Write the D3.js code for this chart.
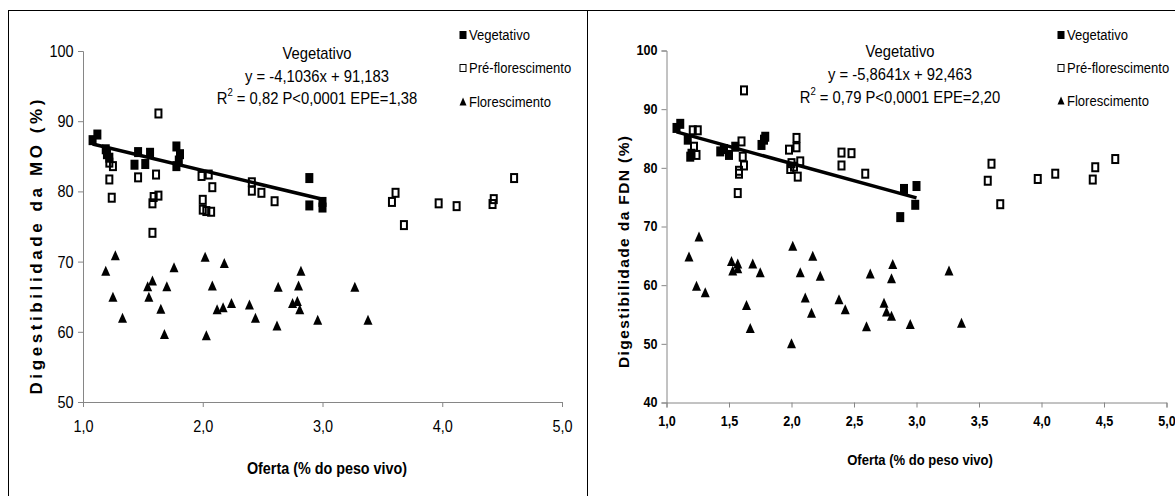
<!DOCTYPE html>
<html>
<head>
<meta charset="utf-8">
<script src="https://cdn.jsdelivr.net/npm/d3@7/dist/d3.min.js"></script>
<style>
  body { margin: 0; background: #fff; }
  text { font-family: "Liberation Sans", Arial, sans-serif; fill: #000; }
</style>
</head>
<body>
<svg id="chart" width="1175" height="496"></svg>
<script>
// estádios fenológicos
var seriesNames = ["Vegetativo", "Pré-florescimento", "Florescimento"];

// digestibilidade da MO (%) x oferta (% PV)
var moVeg = [[1.08,87.3],[1.12,88.1],[1.19,86.0],[1.20,85.3],[1.22,84.8],[1.43,83.8],[1.46,85.6],
  [1.52,83.9],[1.56,85.5],[1.78,86.4],[1.81,85.3],[1.78,83.6],[1.80,84.4],[2.89,81.9],[2.89,78.0],
  [3.00,78.5],[3.00,77.7]];
var moPre = [[1.22,84.1],[1.25,83.6],[1.22,81.7],[1.24,79.1],[1.63,91.1],[1.46,82.0],[1.61,82.4],
  [1.58,78.3],[1.59,79.2],[1.63,79.4],[1.58,74.1],[1.99,82.2],[2.05,82.4],[2.08,80.6],[2.00,78.8],
  [2.00,77.4],[2.03,77.2],[2.07,77.1],[2.41,81.3],[2.41,80.1],[2.49,79.8],[2.60,78.6],[3.58,78.5],
  [3.61,79.8],[3.68,75.2],[3.97,78.3],[4.12,77.9],[4.42,78.2],[4.43,78.9],[4.60,81.9]];
var moFlor = [[1.19,68.7],[1.27,70.9],[1.25,65.0],[1.33,62.0],[1.54,66.5],[1.58,67.3],[1.55,65.0],
  [1.65,63.3],[1.70,66.5],[1.76,69.2],[1.68,59.7],[2.02,70.7],[2.08,66.6],[2.18,69.8],[2.03,59.5],
  [2.12,63.2],[2.17,63.5],[2.24,64.1],[2.39,63.9],[2.44,62.0],[2.63,66.4],[2.62,60.9],[2.75,64.1],
  [2.79,64.4],[2.80,66.6],[2.82,68.7],[2.81,63.2],[2.96,61.7],[3.27,66.4],[3.38,61.7]];

// digestibilidade da FDN (%) x oferta (% PV)
var fdnVeg = [[1.08,86.8],[1.11,87.5],[1.17,84.8],[1.19,81.9],[1.20,82.4],[1.43,82.8],[1.46,83.2],
  [1.50,82.2],[1.55,83.6],[1.76,83.9],[1.78,84.8],[1.79,85.3],[2.90,76.4],[2.87,71.6],[3.00,76.9],
  [2.99,73.7]];
var fdnPre = [[1.21,86.4],[1.25,86.4],[1.22,83.6],[1.24,82.2],[1.62,93.2],[1.60,84.5],[1.61,81.9],
  [1.62,80.4],[1.58,79.5],[1.58,79.0],[1.57,75.7],[1.98,83.1],[2.04,85.1],[2.04,83.5],[2.00,80.8],
  [1.99,79.8],[2.07,81.1],[2.05,78.5],[2.02,80.2],[2.40,82.6],[2.48,82.5],[2.40,80.4],[2.59,79.0],
  [3.57,77.8],[3.60,80.7],[3.67,73.8],[3.97,78.1],[4.11,79.0],[4.41,78.0],[4.43,80.1],[4.59,81.5]];
var fdnFlor = [[1.18,64.9],[1.26,68.3],[1.24,59.9],[1.31,58.8],[1.52,64.1],[1.53,62.5],[1.57,63.7],
  [1.57,62.9],[1.69,63.7],[1.75,62.2],[1.64,56.6],[1.67,52.7],[2.01,66.7],[2.00,50.1],[2.07,62.2],
  [2.17,65.0],[2.23,61.6],[2.11,57.9],[2.16,55.3],[2.38,57.6],[2.43,55.9],[2.63,62.0],[2.60,53.0],
  [2.74,57.0],[2.76,55.5],[2.80,54.8],[2.80,61.2],[2.81,63.6],[2.95,53.4],[3.26,62.5],[3.36,53.6]];

// regressões do estádio vegetativo: [inclinação, intercepto], faixa de x
var moFit = [-4.1036, 91.183];
var fdnFit = [-5.8641, 92.463];
var fitRange = [1.08, 3.0];

var moEquation = ["Vegetativo", "y = -4,1036x + 91,183", ["R", "2", " = 0,82 P<0,0001 EPE=1,38"]];
var fdnEquation = ["Vegetativo", "y = -5,8641x + 92,463", ["R", "2", " = 0,79 P<0,0001 EPE=2,20"]];

var moXTicks = [1, 2, 3, 4, 5];
var fdnXTicks = [1, 1.5, 2, 2.5, 3, 3.5, 4, 4.5, 5];
var moYTicks = [50, 60, 70, 80, 90, 100];
var fdnYTicks = [40, 50, 60, 70, 80, 90, 100];

var svg = d3.select("#chart");
var fmt = function (d) { return d3.format(".1f")(d).replace(".", ","); };
var sq = 0.87; // letras estreitas e altas

// moldura da tabela
svg.append("line").attr("x1", 8).attr("x2", 1175).attr("y1", 10.5).attr("y2", 10.5).attr("stroke", "#000");
svg.append("line").attr("x1", 8.5).attr("x2", 8.5).attr("y1", 10).attr("y2", 496).attr("stroke", "#000");
svg.append("line").attr("x1", 587.5).attr("x2", 587.5).attr("y1", 10).attr("y2", 496).attr("stroke", "#000");

function label(g, x, y, size, anchor) {
  return g.append("text").attr("transform", "translate(" + x + "," + y + ") scale(" + sq + ",1)")
    .attr("text-anchor", anchor).attr("dominant-baseline", "central").attr("font-size", size + "px");
}

function marker(g, type, cx, cy) {
  if (type == 0) {
    g.append("rect").attr("x", cx - 4).attr("y", cy - 5).attr("width", 8).attr("height", 10).attr("fill", "#000");
  } else if (type == 1) {
    g.append("rect").attr("x", cx - 3).attr("y", cy - 4).attr("width", 6).attr("height", 8)
      .attr("fill", "none").attr("stroke", "#000").attr("stroke-width", 2);
  } else {
    g.append("path").attr("d", "M" + cx + "," + (cy - 5) + "L" + (cx + 4.5) + "," + (cy + 5) + "L" + (cx - 4.5) + "," + (cy + 5) + "Z")
      .attr("fill", "#000");
  }
}

function drawPanel(p) {
  var x = d3.scaleLinear().domain([1, 5]).range(p.xr);
  var y = d3.scaleLinear().domain(p.yd).range(p.yr);
  var g = svg.append("g");

  // eixos
  var ya = g.append("g").attr("transform", "translate(" + p.xr[0] + ",0)")
    .call(d3.axisLeft(y).tickValues(p.yTicks).tickSize(5).tickPadding(p.yPad).tickFormat(d3.format("d")));
  var xa = g.append("g").attr("transform", "translate(0," + p.yr[0] + ")")
    .call(d3.axisBottom(x).tickValues(p.xTicks).tickSize(5).tickPadding(p.xPad).tickFormat(fmt));
  [ya, xa].forEach(function (a) {
    a.select(".domain").attr("stroke", "#868686");
    a.selectAll(".tick line").attr("stroke", "#868686");
    a.selectAll(".tick text").style("font-family", '"Liberation Sans", Arial, sans-serif')
      .style("font-size", p.tickSize + "px").style("font-weight", p.tickWeight).attr("fill", "#000")
      .attr("transform", "scale(" + p.tickSq + ",1)");
  });

  // pontos
  [p.veg, p.pre, p.flor].forEach(function (s, k) {
    s.forEach(function (d) { marker(g, k, x(d[0]), y(d[1])); });
  });

  // linha de tendência
  var line = d3.line().x(function (d) { return x(d); }).y(function (d) { return y(p.fit[0] * d + p.fit[1]); });
  g.append("path").attr("d", line(fitRange)).attr("stroke", "#000").attr("stroke-width", 3.5).attr("fill", "none");

  // equação
  label(g, p.eqX, p.eqY[0], 17, "middle").text(p.eq[0]);
  label(g, p.eqX, p.eqY[1], 17, "middle").text(p.eq[1]);
  var r2 = label(g, p.eqX, p.eqY[2], 17, "middle");
  r2.append("tspan").text(p.eq[2][0]);
  r2.append("tspan").attr("font-size", "11px").attr("dy", -6).text(p.eq[2][1]);
  r2.append("tspan").attr("dy", 6).text(p.eq[2][2]);

  // legenda
  seriesNames.forEach(function (n, k) {
    var ly = p.legY[k];
    if (k == 0) g.append("rect").attr("x", p.legX - 3.5).attr("y", ly - 4).attr("width", 7).attr("height", 8).attr("fill", "#000");
    else if (k == 1) g.append("rect").attr("x", p.legX - 3).attr("y", ly - 3.5).attr("width", 6).attr("height", 7)
      .attr("fill", "none").attr("stroke", "#000").attr("stroke-width", 1);
    else g.append("path").attr("d", "M" + p.legX + "," + (ly - 4) + "L" + (p.legX + 3.5) + "," + (ly + 4) + "L" + (p.legX - 3.5) + "," + (ly + 4) + "Z");
    label(g, p.legX + 6, ly, 15, "start").text(n);
  });

  // títulos dos eixos
  label(g, p.xtX, p.xtY, p.xtSize, "middle").attr("font-weight", "bold").text("Oferta (% do peso vivo)");
  g.append("text").attr("transform", "translate(" + p.ytX + "," + p.ytY + ") rotate(-90)")
    .attr("text-anchor", "middle").attr("dominant-baseline", "central")
    .attr("font-size", p.ytSize + "px").attr("font-weight", "bold")
    .attr("textLength", p.ytLen).attr("lengthAdjust", "spacing").text(p.yTitle);
}

drawPanel({
  xr: [83, 562], yr: [402, 51], yd: [50, 100], xTicks: moXTicks, yTicks: moYTicks,
  yPad: 6, xPad: 13, tickSize: 17, tickWeight: "normal", tickSq: 0.85,
  veg: moVeg, pre: moPre, flor: moFlor, fit: moFit, eq: moEquation,
  eqX: 317, eqY: [53, 76.5, 97.5], legX: 463, legY: [35, 68, 101.5],
  xtX: 327, xtY: 468, xtSize: 16.5, ytX: 36, ytY: 247, ytSize: 17, ytLen: 295,
  yTitle: "Digestibilidade da MO (%)"
});

drawPanel({
  xr: [666.5, 1166.5], yr: [402.5, 50.5], yd: [40, 100], xTicks: fdnXTicks, yTicks: fdnYTicks,
  yPad: 5, xPad: 9, tickSize: 14, tickWeight: "bold", tickSq: 0.9,
  veg: fdnVeg, pre: fdnPre, flor: fdnFlor, fit: fdnFit, eq: fdnEquation,
  eqX: 900, eqY: [51, 74.5, 97], legX: 1061, legY: [35, 68, 100.5],
  xtX: 920, xtY: 460, xtSize: 15, ytX: 623.5, ytY: 252, ytSize: 15.5, ytLen: 232,
  yTitle: "Digestibilidade da FDN (%)"
});
</script>
</body>
</html>
